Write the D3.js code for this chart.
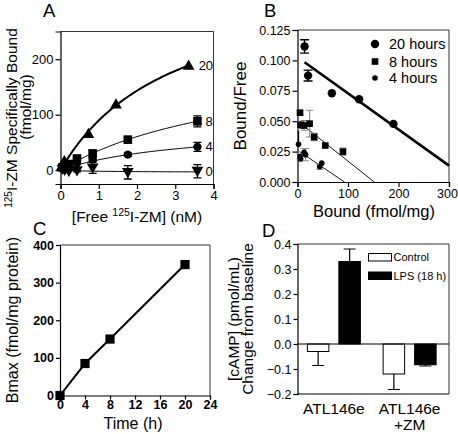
<!DOCTYPE html>
<html><head><meta charset="utf-8">
<script src="https://cdn.jsdelivr.net/npm/d3@7"></script>
<style>
body{margin:0;background:#fff}
svg{display:block}
text{font-family:"Liberation Sans",Arial,Helvetica,sans-serif;fill:#000}
</style>
</head><body>
<svg id="c" width="458" height="434"></svg>
<script>
// ---------- Panel A: saturation binding ----------
const freeA20 = [0.04, 0.10, 0.73, 1.45, 3.35];
const boundA20 = [8, 17, 66, 119, 189];
const freeA = [0.05, 0.11, 0.22, 0.43, 0.84, 1.76, 3.58];
const boundA8 = [5, 9, 11, 21, 30, 55, 88];
const errA8 = [0, 0, 0, 3, 6, 4, 10];
const boundA4 = [3, 5, 7, 13, 19, 28, 42];
const errA4 = [0, 0, 0, 2, 3, 3, 8];
const boundA0 = [2, 0, -2, -1, 4, -4, -2];
const errA0 = [0, 0, 0, 2, 10, 12, 12];
const seriesLabelsA = ["20", "8", "4", "0"];
const fitBmaxA = [358, 210, 81, -4];
const fitKdA = [3.0, 4.95, 3.35, 1.0];
const xTicksA = [0, 1, 2, 3, 4];
const yTicksA = [0, 100, 200];

// ---------- Panel B: Scatchard ----------
const bx20 = [14, 21, 68, 122, 190];
const by20 = [0.1115, 0.0875, 0.0730, 0.0680, 0.0478];
const be20 = [0.0055, 0.0045, 0.0015, 0.001, 0.001];
const bx8 = [5, 6, 13, 24, 33, 55, 90];
const by8 = [0.057, 0.047, 0.0465, 0.048, 0.037, 0.030, 0.025];
const be8 = [0.002, 0.003, 0.004, 0.011, 0.003, 0, 0.003];
const bx4 = [2, 5, 6, 13, 16, 44, 48];
const by4 = [0.031, 0.021, 0.019, 0.0245, 0.0225, 0.0125, 0.0155];
const be4 = [0.011, 0.002, 0, 0.003, 0.005, 0.002, 0];
const fitLineB20 = [[14, 0.0985], [300, 0.0135]];
const fitLineB8 = [[8, 0.0475], [152, 0]];
const fitLineB4 = [[4, 0.025], [93, 0]];
const legendB = ["20 hours", "8 hours", "4 hours"];
const xTicksB = [0, 100, 200, 300];
const yTicksB = [0, 0.025, 0.05, 0.075, 0.1, 0.125];

// ---------- Panel C: Bmax vs time ----------
const timeC = [0, 4, 8, 20];
const bmaxC = [0, 85, 150, 348];
const xTicksC = [0, 4, 8, 12, 16, 20, 24];
const yTicksC = [0, 100, 200, 300, 400];

// ---------- Panel D: cAMP ----------
const groupsD = ["ATL146e", "ATL146e|+ZM"];
const controlD = [-0.03, -0.12];
const controlErrD = [0.056, 0.062];
const lpsD = [0.33, -0.083];
const lpsErrD = [0.05, 0.005];
const legendD = ["Control", "LPS (18 h)"];
const yTicksD = [-0.2, -0.1, 0, 0.1, 0.2, 0.3, 0.4];

const svg = d3.select("#c");
const F = '"Liberation Sans",Arial,Helvetica,sans-serif';

function styleAxis(g, size, bold) {
  g.selectAll("path.domain").attr("stroke", "#000").attr("stroke-width", 1.2);
  g.selectAll(".tick line").attr("stroke", "#000").attr("stroke-width", 1.2);
  g.selectAll(".tick text").attr("font-size", size).attr("font-family", F)
    .attr("font-weight", bold ? "bold" : "normal").attr("fill", "#000");
}
function frame(xs, ys) {
  const [x0, x1] = xs.range(), [y0, y1] = ys.range();
  svg.append("path")
    .attr("d", `M${x0},${y1}H${x1}V${y0}`)
    .attr("fill", "none").attr("stroke", "#333").attr("stroke-width", 1);
}
function errBar(g, x, yLo, yHi, cap, color, w) {
  g.append("path").attr("d", `M${x},${yLo}V${yHi}M${x - cap},${yLo}H${x + cap}M${x - cap},${yHi}H${x + cap}`)
    .attr("stroke", color).attr("stroke-width", w || 1.2).attr("fill", "none");
}
function panelLetter(t, x, y) {
  svg.append("text").attr("x", x).attr("y", y).attr("font-size", 18.5).text(t);
}

// ================= Panel A =================
{
  const x = d3.scaleLinear().domain([0, 4]).range([60.5, 213.5]);
  const y = d3.scaleLinear().domain([-25, 250]).range([184, 31.5]);
  frame(x, y);
  const ga = svg.append("g").attr("transform", `translate(0,${y(-25)})`)
    .call(d3.axisBottom(x).tickValues(xTicksA).tickSize(5).tickPadding(2).tickFormat(d3.format("d")));
  styleAxis(ga, 13);
  const gy = svg.append("g").attr("transform", `translate(${x(0)},0)`)
    .call(d3.axisLeft(y).tickValues(yTicksA).tickSize(5).tickPadding(2).tickFormat(d3.format("d")));
  styleAxis(gy, 13);

  const g = svg.append("g");
  const maxX = [3.35, 3.58, 3.58, 3.58];
  fitBmaxA.forEach((B, i) => {
    const K = fitKdA[i];
    const pts = d3.range(0, maxX[i] + 0.001, maxX[i] / 60).map(v => [v, B * v / (K + v)]);
    g.append("path").attr("d", d3.line().x(d => x(d[0])).y(d => y(d[1]))(pts))
      .attr("fill", "none").attr("stroke", "#000").attr("stroke-width", i === 0 ? 2 : 1);
  });
  [[boundA8, errA8], [boundA4, errA4], [boundA0, errA0]].forEach(([b, e]) => {
    b.forEach((v, i) => { if (e[i] > 0) errBar(g, x(freeA[i]), y(v - e[i]), y(v + e[i]), 4, "#000", 1.3); });
  });
  const tri = d3.symbol().type(d3.symbolTriangle).size(60);
  freeA.forEach((v, i) => g.append("path").attr("d", tri())
    .attr("transform", `translate(${x(v)},${y(boundA0[i]) - 1}) rotate(180)`));
  freeA.forEach((v, i) => g.append("circle").attr("cx", x(v)).attr("cy", y(boundA4[i])).attr("r", 4.2));
  freeA.forEach((v, i) => g.append("rect").attr("x", x(v) - 4.3).attr("y", y(boundA8[i]) - 4.3).attr("width", 8.6).attr("height", 8.6));
  freeA20.forEach((v, i) => g.append("path").attr("d", tri()).attr("transform", `translate(${x(v)},${y(boundA20[i]) + 1})`));

  const lastVals = [boundA20[4], boundA8[6], boundA4[6], boundA0[6]];
  const lastX = [freeA20[4], freeA[6], freeA[6], freeA[6]];
  seriesLabelsA.forEach((t, i) => {
    svg.append("text").attr("x", x(lastX[i]) + (i === 0 ? 10 : 8)).attr("y", y(lastVals[i]))
      .attr("dy", "0.35em").attr("font-size", 13).text(t);
  });

  const tx = svg.append("text").attr("x", 137).attr("y", 222).attr("text-anchor", "middle").attr("font-size", 15.5);
  tx.append("tspan").text("[Free ");
  tx.append("tspan").attr("dy", -6).attr("font-size", 10.5).text("125");
  tx.append("tspan").attr("dy", 6).text("I-ZM] (nM)");
  const ty = svg.append("text").attr("transform", "translate(16.5,118) rotate(-90)").attr("text-anchor", "middle").attr("font-size", 15.5);
  ty.append("tspan").attr("dy", -5).attr("font-size", 10).text("125");
  ty.append("tspan").attr("dy", 5).text("I-ZM Specifically Bound");
  svg.append("text").attr("transform", "translate(31,107) rotate(-90)").attr("text-anchor", "middle").attr("font-size", 15.5).text("(fmol/mg)");
  panelLetter("A", 43, 17);
}

// ================= Panel B =================
{
  const x = d3.scaleLinear().domain([0, 300]).range([297.5, 449]);
  const y = d3.scaleLinear().domain([0, 0.125]).range([182, 30]);
  frame(x, y);
  const ga = svg.append("g").attr("transform", `translate(0,${y(0)})`)
    .call(d3.axisBottom(x).tickValues(xTicksB).tickSize(5).tickPadding(2).tickFormat(d3.format("d")));
  styleAxis(ga, 12.5);
  ga.selectAll(".tick text").filter(d => d === 300).attr("dx", -2);
  const gy = svg.append("g").attr("transform", `translate(${x(0)},0)`)
    .call(d3.axisLeft(y).tickValues(yTicksB).tickSize(5).tickPadding(2).tickFormat(d3.format(".3f")));
  styleAxis(gy, 12.5);
  const g = svg.append("g");
  const ln = d3.line().x(d => x(d[0])).y(d => y(d[1]));
  g.append("path").attr("d", ln(fitLineB20)).attr("stroke", "#000").attr("stroke-width", 2.6).attr("fill", "none");
  g.append("path").attr("d", ln(fitLineB8)).attr("stroke", "#000").attr("stroke-width", 0.9).attr("fill", "none");
  g.append("path").attr("d", ln(fitLineB4)).attr("stroke", "#000").attr("stroke-width", 0.9).attr("fill", "none");

  bx8.forEach((v, i) => { if (be8[i] > 0) errBar(g, x(v), y(by8[i] - be8[i]), y(by8[i] + be8[i]), 3.5, "#888", 1.1); });
  bx4.forEach((v, i) => {
    if (be4[i] > 0) {
      if (i === 0) g.append("path").attr("d", `M${x(v)},${y(by4[i])}V${y(by4[i] + be4[i])}`).attr("stroke", "#000").attr("stroke-width", 1.3);
      else errBar(g, x(v), y(by4[i] - be4[i]), y(by4[i] + be4[i]), 3.5, "#888", 1.1);
    }
  });
  bx20.forEach((v, i) => { if (be20[i] > 0.002) errBar(g, x(v), y(by20[i] - be20[i]), y(by20[i] + be20[i]), 4.5, "#000", 1.4); });

  bx4.forEach((v, i) => g.append("circle").attr("cx", x(v)).attr("cy", y(by4[i])).attr("r", 2.8));
  bx8.forEach((v, i) => g.append("rect").attr("x", x(v) - 3.3).attr("y", y(by8[i]) - 3.3).attr("width", 6.6).attr("height", 6.6));
  bx20.forEach((v, i) => g.append("circle").attr("cx", x(v)).attr("cy", y(by20[i])).attr("r", 4.2));

  const ly = [44, 61.5, 78];
  svg.append("circle").attr("cx", 375).attr("cy", ly[0]).attr("r", 4.2);
  svg.append("rect").attr("x", 375 - 3.3).attr("y", ly[1] - 3.3).attr("width", 6.6).attr("height", 6.6);
  svg.append("circle").attr("cx", 375).attr("cy", ly[2]).attr("r", 2.8);
  legendB.forEach((t, i) => svg.append("text").attr("x", 389).attr("y", ly[i]).attr("dy", "0.35em").attr("font-size", 14.5).text(t));

  svg.append("text").attr("x", 374).attr("y", 217).attr("text-anchor", "middle").attr("font-size", 16.5).text("Bound (fmol/mg)");
  svg.append("text").attr("transform", "translate(246,106) rotate(-90)").attr("text-anchor", "middle").attr("font-size", 17).text("Bound/Free");
  panelLetter("B", 264, 17);
}

// ================= Panel C =================
{
  const x = d3.scaleLinear().domain([0, 24]).range([60, 210]);
  const y = d3.scaleLinear().domain([0, 400]).range([395.5, 245]);
  frame(x, y);
  const ga = svg.append("g").attr("transform", `translate(0,${y(0)})`)
    .call(d3.axisBottom(x).tickValues(xTicksC).tickSize(4).tickPadding(1).tickFormat(d3.format("d")));
  styleAxis(ga, 12.5, true);
  const gy = svg.append("g").attr("transform", `translate(${x(0)},0)`)
    .call(d3.axisLeft(y).tickValues(yTicksC).tickSize(4).tickPadding(2).tickFormat(d3.format("d")));
  styleAxis(gy, 12.5, true);
  const g = svg.append("g");
  g.append("path").attr("d", d3.line().x((d, i) => x(timeC[i])).y(d => y(d))(bmaxC))
    .attr("fill", "none").attr("stroke", "#000").attr("stroke-width", 2);
  bmaxC.forEach((v, i) => g.append("rect").attr("x", x(timeC[i]) - 4.6).attr("y", y(v) - 4.6).attr("width", 9.2).attr("height", 9.2));
  svg.append("text").attr("x", 133).attr("y", 428.5).attr("text-anchor", "middle").attr("font-size", 16).text("Time (h)");
  svg.append("text").attr("transform", "translate(18,320) rotate(-90)").attr("text-anchor", "middle").attr("font-size", 16).text("Bmax (fmol/mg protein)");
  panelLetter("C", 33, 235);
}

// ================= Panel D =================
{
  const x0 = d3.scaleBand().domain(groupsD).range([297.5, 449]).paddingInner(0.0).paddingOuter(0.0);
  const y = d3.scaleLinear().domain([-0.2, 0.4]).range([394, 244]);
  const x = d3.scaleLinear().domain([0, 1]).range([297.5, 449]);
  frame(x, y);
  const gy = svg.append("g").attr("transform", `translate(${x(0)},0)`)
    .call(d3.axisLeft(y).tickValues(yTicksD).tickSize(4).tickPadding(2).tickFormat(d3.format(".1f")));
  styleAxis(gy, 12.5);
  svg.append("line").attr("x1", x(0)).attr("x2", x(1)).attr("y1", y(-0.2)).attr("y2", y(-0.2)).attr("stroke", "#000").attr("stroke-width", 1.2);
  const g = svg.append("g");
  const bw = 21.5, gap = 10;
  groupsD.forEach((grp, i) => {
    const c = x0(grp) + x0.bandwidth() / 2 - 1.5;
    const xc = c - gap / 2 - bw, xl = c + gap / 2;
    const vc = controlD[i];
    g.append("rect").attr("x", xc).attr("y", y(Math.max(0, vc))).attr("width", bw).attr("height", Math.abs(y(vc) - y(0)))
      .attr("fill", "#fff").attr("stroke", "#000").attr("stroke-width", 1);
    const ec = vc < 0 ? vc - controlErrD[i] : vc + controlErrD[i];
    g.append("path").attr("d", `M${xc + bw / 2},${y(vc)}V${y(ec)}M${xc + bw / 2 - 6},${y(ec)}H${xc + bw / 2 + 6}`).attr("stroke", "#000").attr("stroke-width", 1.2);
    const vl = lpsD[i];
    const el = vl < 0 ? vl - lpsErrD[i] : vl + lpsErrD[i];
    g.append("path").attr("d", `M${xl + bw / 2},${y(vl)}V${y(el)}M${xl + bw / 2 - 6},${y(el)}H${xl + bw / 2 + 6}`).attr("stroke", "#000").attr("stroke-width", 1.2);
    g.append("rect").attr("x", xl).attr("y", y(Math.max(0, vl))).attr("width", bw).attr("height", Math.abs(y(vl) - y(0)))
      .attr("fill", "#000").attr("stroke", "#000").attr("stroke-width", 1);
    const lines = grp.split("|");
    lines.forEach((t, k) => svg.append("text").attr("x", c).attr("y", 414 + k * 16).attr("text-anchor", "middle").attr("font-size", 15.5).text(t));
  });
  svg.append("line").attr("x1", x(0)).attr("x2", x(1)).attr("y1", y(0)).attr("y2", y(0)).attr("stroke", "#000").attr("stroke-width", 1.2);
  svg.append("rect").attr("x", 368.5).attr("y", 253.5).attr("width", 23).attr("height", 7.5).attr("fill", "#fff").attr("stroke", "#000");
  svg.append("rect").attr("x", 368.5).attr("y", 272).attr("width", 23).attr("height", 7.5).attr("fill", "#000").attr("stroke", "#000");
  legendD.forEach((t, i) => svg.append("text").attr("x", 393.5).attr("y", 257.5 + i * 18.5).attr("dy", "0.35em").attr("font-size", 11).text(t));
  svg.append("text").attr("transform", "translate(239,319) rotate(-90)").attr("text-anchor", "middle").attr("font-size", 15.5).text("[cAMP] (pmol/mL)");
  svg.append("text").attr("transform", "translate(253,319) rotate(-90)").attr("text-anchor", "middle").attr("font-size", 15.5).text("Change from baseline");
  panelLetter("D", 262, 237);
}
</script>
</body></html>
